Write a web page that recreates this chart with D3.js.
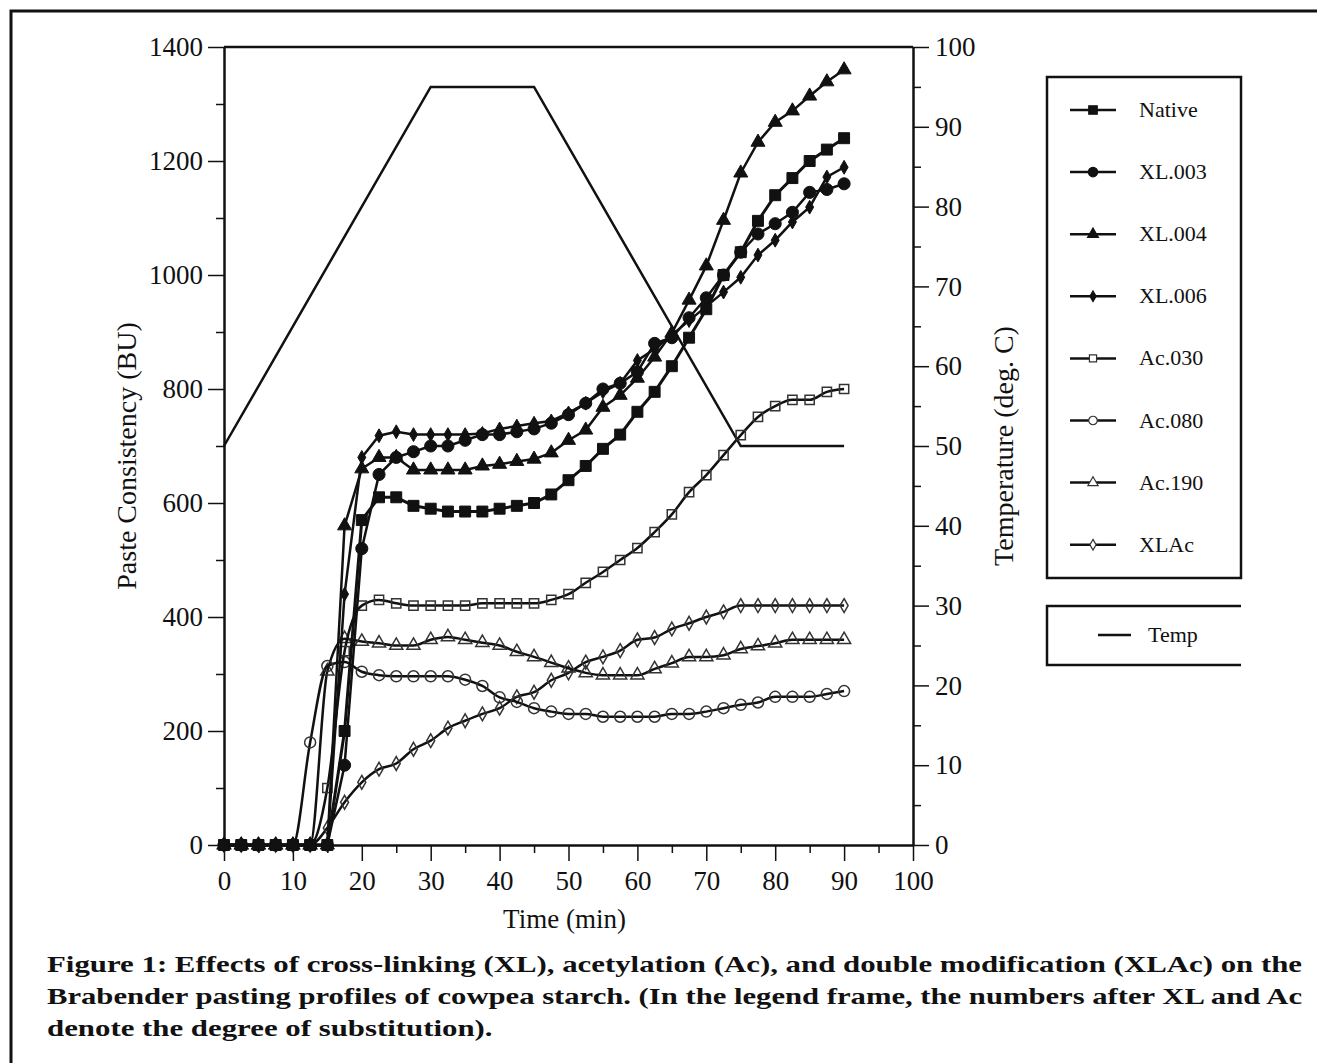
<!DOCTYPE html>
<html>
<head>
<meta charset="utf-8">
<script src="https://cdnjs.cloudflare.com/ajax/libs/d3/7.8.5/d3.min.js"></script>
<style>
  body { margin: 0; background: #fff; }
  text { font-family: "Liberation Serif", "Times New Roman", Times, serif; fill: #111; }
</style>
</head>
<body>
<div id="my_dataviz"></div>
<script>

// sampling times (min)
var times = [0, 2.5, 5, 7.5, 10, 12.5, 15, 17.5, 20, 22.5, 25, 27.5, 30, 32.5, 35, 37.5, 40, 42.5, 45,
             47.5, 50, 52.5, 55, 57.5, 60, 62.5, 65, 67.5, 70, 72.5, 75, 77.5, 80, 82.5, 85, 87.5, 90];

// paste consistency (BU)
var native = [0, 0, 0, 0, 0, 0, 0, 200, 570, 610, 610, 595, 590, 585, 585, 585, 590, 595, 600,
              615, 640, 665, 695, 720, 760, 795, 840, 890, 940, 1000, 1040, 1095, 1140, 1170, 1200, 1220, 1240];
var xl003 = [0, 0, 0, 0, 0, 0, 0, 140, 520, 650, 680, 690, 700, 700, 710, 720, 720, 725, 730,
             740, 755, 775, 800, 810, 830, 880, 890, 925, 960, 1000, 1040, 1072, 1090, 1110, 1145, 1150, 1160];
var xl004 = [0, 0, 0, 0, 0, 0, 0, 560, 660, 680, 680, 658, 658, 658, 658, 665, 668, 673, 677,
             688, 710, 728, 768, 789, 819, 856, 898, 956, 1016, 1096, 1179, 1233, 1268, 1288, 1314, 1339, 1360];
var xl006 = [0, 0, 0, 0, 0, 0, 0, 440, 680, 718, 725, 720, 720, 720, 720, 722, 730, 735, 740,
             744, 758, 775, 795, 810, 850, 870, 895, 920, 945, 970, 996, 1035, 1061, 1093, 1119, 1172, 1189];
var ac030 = [0, 0, 0, 0, 0, 0, 100, 340, 420, 430, 424, 420, 420, 420, 420, 424, 424, 424, 424,
             430, 440, 460, 479, 500, 521, 549, 580, 619, 649, 684, 719, 751, 770, 781, 781, 795, 800];
var ac080 = [0, 0, 0, 0, 0, 180, 314, 321, 304, 298, 296, 296, 296, 296, 290, 279, 259, 251, 240,
             234, 230, 230, 225, 225, 225, 225, 230, 230, 234, 240, 246, 250, 260, 260, 260, 265, 270];
var ac190 = [0, 0, 0, 0, 0, 0, 305, 362, 357, 354, 350, 350, 360, 365, 360, 355, 350, 339, 330,
             320, 310, 302, 298, 298, 298, 309, 319, 330, 330, 333, 344, 349, 354, 360, 360, 360, 360];
var xlac = [0, 0, 0, 0, 0, 0, 30, 75, 110, 133, 143, 168, 183, 205, 218, 230, 240, 260, 268,
            289, 302, 321, 330, 341, 360, 364, 379, 389, 400, 409, 420, 420, 420, 420, 420, 420, 420];

// temperature programme (deg. C)
var tempTimes = [0, 30, 45, 75, 90];
var tempValues = [50, 95, 95, 50, 50];

// tick labels
var xTicks = [0, 10, 20, 30, 40, 50, 60, 70, 80, 90, 100];
var yTicks = [0, 200, 400, 600, 800, 1000, 1200, 1400];
var y2Ticks = [0, 10, 20, 30, 40, 50, 60, 70, 80, 90, 100];

var seriesNames = ["Native", "XL.003", "XL.004", "XL.006", "Ac.030", "Ac.080", "Ac.190", "XLAc"];
var seriesValues = [native, xl003, xl004, xl006, ac030, ac080, ac190, xlac];

var caption = [
  "Figure 1: Effects of cross-linking (XL), acetylation (Ac), and double modification (XLAc) on the",
  "Brabender pasting profiles of cowpea starch. (In the legend frame, the numbers after XL and Ac",
  "denote the degree of substitution)."
];

var W = 1317, H = 1063;
var margin = {top: 47, left: 224},
    width = 689,
    height = 798;

var root = d3.select("#my_dataviz").append("svg")
    .attr("width", W)
    .attr("height", H);

// figure frame (only top and left edges show)
root.append("path")
    .attr("d", "M11," + H + "V11H" + W)
    .attr("fill", "none")
    .attr("stroke", "#111")
    .attr("stroke-width", 3);

var svg = root.append("g")
    .attr("transform", "translate(" + margin.left + "," + margin.top + ")");

var x = d3.scaleLinear().domain([0, 100]).range([0, width]);
var y = d3.scaleLinear().domain([0, 1400]).range([height, 0]);
var y2 = d3.scaleLinear().domain([0, 100]).range([height, 0]);

// minor ticks first
svg.append("g")
    .attr("transform", "translate(0," + height + ")")
    .call(d3.axisBottom(x).tickValues(d3.range(5, 100, 10)).tickSize(8).tickFormat(""))
    .call(function (g) { g.select(".domain").remove(); });
svg.append("g")
    .call(d3.axisLeft(y).tickValues(d3.range(100, 1400, 200)).tickSize(8).tickFormat(""))
    .call(function (g) { g.select(".domain").remove(); });
svg.append("g")
    .attr("transform", "translate(" + width + ",0)")
    .call(d3.axisRight(y2).tickValues(d3.range(5, 100, 10)).tickSize(8).tickFormat(""))
    .call(function (g) { g.select(".domain").remove(); });

// major ticks
svg.append("g")
    .attr("class", "xaxis")
    .attr("transform", "translate(0," + height + ")")
    .call(d3.axisBottom(x).tickValues(xTicks).tickSize(16).tickPadding(10).tickSizeOuter(0)
        .tickFormat(d3.format("d")));
svg.append("g")
    .attr("class", "yaxis")
    .call(d3.axisLeft(y).tickValues(yTicks).tickSize(16).tickPadding(5).tickSizeOuter(0)
        .tickFormat(d3.format("d")));
svg.append("g")
    .attr("class", "y2axis")
    .attr("transform", "translate(" + width + ",0)")
    .call(d3.axisRight(y2).tickValues(y2Ticks).tickSize(16).tickPadding(6).tickSizeOuter(0)
        .tickFormat(d3.format("d")));

svg.selectAll(".tick line").attr("stroke", "#111").attr("stroke-width", 1.5);
svg.selectAll(".tick text")
    .style("font-size", "27px")
    .attr("font-family", null)
    .attr("fill", "#111");
svg.selectAll(".domain").attr("stroke", "#111").attr("stroke-width", 2.5);
// d3 axes set a sans-serif font on the group, drop it so the css serif applies
svg.selectAll(".xaxis, .yaxis, .y2axis").attr("font-family", null).attr("font-size", null);

// top edge of plot box
svg.append("line")
    .attr("x1", 0).attr("x2", width)
    .attr("y1", 0).attr("y2", 0)
    .attr("stroke", "#111").attr("stroke-width", 2.5);

// axis titles
svg.append("text")
    .attr("transform", "translate(-88," + (height / 2 + 10) + ") rotate(-90)")
    .attr("text-anchor", "middle")
    .style("font-size", "28px")
    .text("Paste Consistency (BU)");
svg.append("text")
    .attr("transform", "translate(" + (width + 100) + "," + (height / 2) + ") rotate(-90)")
    .attr("text-anchor", "middle")
    .style("font-size", "28px")
    .text("Temperature (deg. C)");
svg.append("text")
    .attr("x", x(50) - 4)
    .attr("y", height + 83)
    .attr("text-anchor", "middle")
    .style("font-size", "27px")
    .text("Time (min)");

// temperature line
var tempLine = d3.line()
    .x(function (d, i) { return x(tempTimes[i]); })
    .y(function (d) { return y2(d); });
svg.append("path")
    .datum(tempValues)
    .attr("d", tempLine)
    .attr("fill", "none")
    .attr("stroke", "#111")
    .attr("stroke-width", 2.5);

// marker shapes
var shapes = {
  "Native": {type: d3.symbolSquare, size: 120, fill: true},
  "XL.003": {type: d3.symbolCircle, size: 115, fill: true},
  "XL.004": {type: d3.symbolTriangle, size: 85, fill: true},
  "XL.006": {type: d3.symbolDiamond, size: 55, fill: true},
  "Ac.030": {type: d3.symbolSquare, size: 85, fill: false},
  "Ac.080": {type: d3.symbolCircle, size: 95, fill: false},
  "Ac.190": {type: d3.symbolTriangle, size: 75, fill: false},
  "XLAc": {type: d3.symbolDiamond, size: 55, fill: false}
};

function curveFor(name) {
  return name.indexOf("XL.") === 0 || name === "Native" ? d3.curveLinear : d3.curveMonotoneX;
}

// draw from last to first so Native ends up on top
for (var k = seriesNames.length - 1; k >= 0; k--) {
  var name = seriesNames[k], vals = seriesValues[k], sh = shapes[name];
  var line = d3.line()
      .curve(curveFor(name))
      .x(function (d, i) { return x(times[i]); })
      .y(function (d) { return y(d); });
  var g = svg.append("g");
  g.append("path")
      .datum(vals)
      .attr("d", line)
      .attr("fill", "none")
      .attr("stroke", "#111")
      .attr("stroke-width", name === "Native" ? 3 : 2.5);
  g.selectAll("path.pt")
      .data(vals)
      .enter()
      .append("path")
      .attr("class", "pt")
      .attr("transform", function (d, i) { return "translate(" + x(times[i]) + "," + y(d) + ")"; })
      .attr("d", d3.symbol().type(sh.type).size(sh.size))
      .attr("fill", sh.fill ? "#111" : "none")
      .attr("stroke", sh.fill ? "#111" : "#333")
      .attr("stroke-width", sh.fill ? 1 : 1.5);
}

// legend
var leg = root.append("g");
leg.append("rect")
    .attr("x", 1047).attr("y", 77)
    .attr("width", 194).attr("height", 501)
    .attr("fill", "none").attr("stroke", "#111").attr("stroke-width", 2.5);
seriesNames.forEach(function (name, i) {
  var ly = 110 + i * 62.1, sh = shapes[name];
  leg.append("line")
      .attr("x1", 1070).attr("x2", 1116)
      .attr("y1", ly).attr("y2", ly)
      .attr("stroke", "#111").attr("stroke-width", 2.5);
  leg.append("path")
      .attr("transform", "translate(1093," + ly + ")")
      .attr("d", d3.symbol().type(sh.type).size(sh.size * 0.6))
      .attr("fill", sh.fill ? "#111" : "#fff")
      .attr("stroke", sh.fill ? "#111" : "#333")
      .attr("stroke-width", 1.2);
  leg.append("text")
      .attr("x", 1139).attr("y", ly + 7)
      .style("font-size", "22px")
      .text(name);
});

// temperature legend (right edge open)
leg.append("path")
    .attr("d", "M1241,606H1047V665H1241")
    .attr("fill", "none").attr("stroke", "#111").attr("stroke-width", 2.5);
leg.append("line")
    .attr("x1", 1098).attr("x2", 1131)
    .attr("y1", 635).attr("y2", 635)
    .attr("stroke", "#111").attr("stroke-width", 2.5);
leg.append("text")
    .attr("x", 1148).attr("y", 642)
    .style("font-size", "22px")
    .text("Temp");

// caption: first two lines justified, last line scaled the same way
var capNodes = caption.map(function (t, i) {
  return root.append("text")
      .attr("x", 47)
      .attr("y", 972 + i * 32)
      .style("font-size", "24px")
      .style("font-weight", "bold")
      .text(t);
});
var full = 1255;
var scale = full / capNodes[0].node().getComputedTextLength();
capNodes.forEach(function (tx, i) {
  var len = i < 2 ? full : tx.node().getComputedTextLength() * scale;
  tx.attr("textLength", len).attr("lengthAdjust", "spacingAndGlyphs");
});

</script>
</body>
</html>
